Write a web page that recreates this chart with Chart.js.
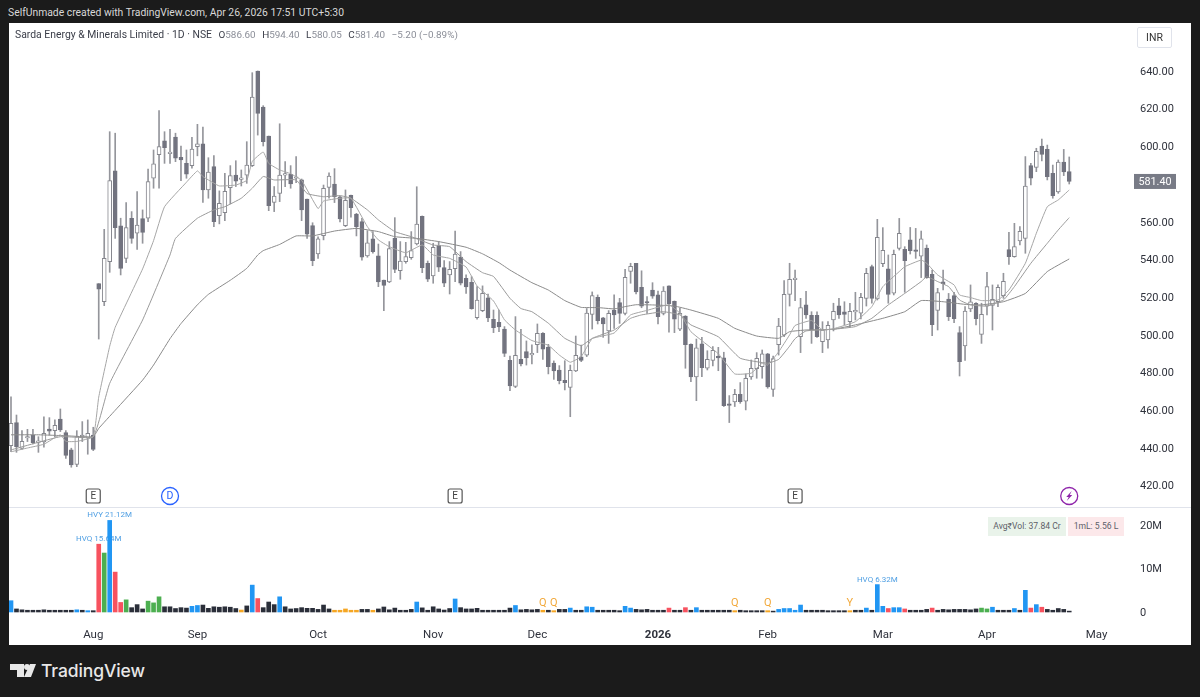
<!DOCTYPE html>
<html>
<head>
<meta charset="utf-8">
<script src="https://cdn.jsdelivr.net/npm/chart.js@4"></script>
<style>
  html, body { margin: 0; padding: 0; width: 1200px; height: 697px; overflow: hidden; background: #1b1b1b; font-family: Roboto, sans-serif; }
  #panel { position: absolute; left: 8.5px; top: 23px; width: 1182.5px; height: 622px; background: #fff; }
  canvas { position: absolute; left: 9px; }
  #priceChart { top: 23px; }
  #volumeChart { top: 507px; }
  #sep { position: absolute; left: 9px; top: 507px; width: 1182px; height: 1px; background: #e0e3eb; }
  .txt { position: absolute; white-space: nowrap; }
  #credit { left: 8px; top: 6px; font-size: 10.35px; color: #d8d8d8; }
  #legend { left: 15px; top: 28px; font-size: 10.4px; color: #3a3d48; }
  #legend i { font-style: normal; color: #8b8e98; }
  #legend span { margin-left: 6.5px; font-size: 9.9px; }
  #inr { left: 1137px; top: 27px; width: 33px; height: 19px; line-height: 19px; text-align: center; font-size: 10.5px; color: #333; border: 1px solid #e0e3eb; border-radius: 2px; }
  .stat { top: 516.5px; height: 19px; line-height: 19px; text-align: center; font-size: 8.6px; color: #5d5f69; }
  #avg { left: 988px; width: 78px; background: #e9f3ea; }
  #ml { left: 1068px; width: 56px; background: #fce8ea; }
  #brand { left: 41px; top: 660px; font-size: 17.5px; font-weight: 500; color: #e8e8e8; font-family: Inter, sans-serif; letter-spacing: -0.1px; }
  #logo { position: absolute; left: 10px; top: 664px; }
</style>
</head>
<body>
<div id="panel"></div>
<canvas id="priceChart" width="1182" height="484"></canvas>
<canvas id="volumeChart" width="1182" height="138"></canvas>
<div id="sep"></div>
<div class="txt" id="credit">SelfUnmade created with TradingView.com, Apr 26, 2026 17:51 UTC+5:30</div>
<div class="txt" id="legend">Sarda Energy &amp; Minerals Limited · 1D · NSE<span>O<i>586.60</i></span><span>H<i>594.40</i></span><span>L<i>580.05</i></span><span>C<i>581.40</i></span><span><i>−5.20 (−0.89%)</i></span></div>
<div class="txt" id="inr">INR</div>
<div class="txt stat" id="avg">Avg₹Vol: 37.84 Cr</div>
<div class="txt stat" id="ml">1mL: 5.56 L</div>
<svg id="logo" width="26" height="14" viewBox="0 0 26 14"><path fill="#e8e8e8" d="M0 0h14v13H7V6H0z"/><circle cx="17" cy="3" r="3" fill="#e8e8e8"/><path fill="#e8e8e8" d="M20 0h6l-5 13h-7z"/></svg>
<div class="txt" id="brand">TradingView</div>

<script>
const opens = [
  441.2, 453.5, 439.8, 445.3, 446.7, 443, 443.2, 450.1, 449.2, 455.4,
  448.2, 439, 431.3, 445.5, 445.2, 446.9, 527.2, 517.6, 538.9, 587,
  557.9, 540.6, 561.9, 553.9, 561.7, 561.9, 583.1, 595.6, 603, 596.2,
  605, 594.2, 591, 589.8, 599.9, 601.3, 576.9, 589.3, 563.3, 564.9,
  578.1, 584.8, 582.5, 584.8, 589.8, 640, 620.9, 605.5, 570.3, 575.1,
  584.8, 585.2, 583.1, 582.2, 572.1, 558, 542.9, 552.7, 578.3, 580,
  573.3, 558, 574, 564.1, 560.1, 541.9, 550.9, 542, 529.1, 528.1,
  551.2, 534.1, 538.9, 541, 548.2, 562.9, 538, 531.3, 547.4, 535.7,
  531.8, 535.1, 541.3, 530, 527.9, 509.2, 512.9, 519.6, 508.3, 506.7,
  503.1, 486.5, 472.7, 487, 491.1, 489.4, 494.8, 500.8, 493.6, 485.1,
  481.4, 475.9, 472.2, 480.9, 488.3, 489.2, 510.9, 519.9, 509, 502.1,
  513.2, 517.1, 511.4, 533.7, 538, 525.2, 517.4, 523.8, 521.2, 511.4,
  526, 517.8, 503.1, 510, 495, 477.7, 495.2, 482.3, 486.5, 488.3,
  487.9, 462.8, 464.4, 468.5, 464.8, 477.7, 482.1, 483.1, 489.9, 471.1,
  494.8, 499.8, 521.5, 529.3, 499.1, 516, 510.4, 510.4, 496.4, 497.3,
  507.9, 515.4, 512.2, 507, 512.2, 511.5, 519.4, 536.2, 519.1, 537.8,
  535.1, 522.1, 545.9, 545.4, 550.4, 544.9, 541.7, 546.1, 532.1, 513,
  528.1, 519, 520.8, 501.2, 494.1, 513.8, 516.8, 500.3, 515.3, 515.7,
  517.6, 520.8, 545.2, 541.5, 549.8, 551.2, 589.8, 588.9, 600.2, 598.4,
  585.7, 575.8, 591.7, 586.6
];
const highs = [
  467.2, 457.5, 449.2, 449.9, 449.9, 446, 456.6, 456.1, 454.9, 460.7,
  449.2, 439.9, 449.2, 454, 454.9, 451, 527.2, 556, 607.8, 607,
  561.9, 570.2, 565.4, 576, 566.3, 588, 598.1, 619, 607.8, 609,
  607, 600.2, 598.1, 604.8, 611.7, 610.3, 594, 595.1, 576.4, 585.7,
  589.8, 592.4, 587.5, 602.5, 639.1, 640, 621.6, 605.5, 578.7, 612,
  591.9, 589.8, 594.6, 582.7, 572.1, 559.5, 552, 579.5, 586, 588.2,
  573.7, 576.9, 574.2, 564.5, 561.8, 555.3, 554.8, 548.2, 529.1, 549.5,
  562.2, 549.5, 549.1, 554.8, 578.6, 563.1, 539.2, 548.6, 549.5, 539.4,
  538.9, 555.1, 544.2, 531.8, 530.9, 525.6, 526, 521.7, 513.2, 513.2,
  504.4, 488.8, 509.7, 503, 496.8, 494.7, 505.8, 501.2, 495, 486.2,
  483.7, 486.3, 484, 499.4, 494.6, 514, 522.8, 521.2, 509.3, 512.9,
  521.2, 519.4, 534.8, 538, 538, 534, 520.3, 527.7, 523.3, 525.6,
  526, 518, 514.1, 510.2, 495.2, 497.8, 498.7, 491.6, 493.8, 493.4,
  490.8, 467.8, 471.1, 474.7, 479.3, 486.7, 490.6, 492, 490.2, 488.8,
  508.8, 528.8, 538, 534.4, 519.4, 523.1, 512.3, 512.3, 507, 507,
  516.8, 519.4, 517.6, 516.8, 522.6, 522, 535.3, 537.1, 561.3, 556.9,
  542.4, 545, 561.8, 546.8, 557, 556.5, 555.1, 547.7, 534.4, 524.7,
  534.4, 522, 522.6, 504.4, 515, 526.5, 517.1, 516.8, 533.2, 526.5,
  526.5, 532.7, 554.4, 559.2, 557.4, 594.6, 591, 599, 603.9, 600.7,
  590.1, 592.8, 598.4, 594.4
];
const lows = [
  438, 437.7, 439.3, 443.4, 442.1, 437.7, 440.4, 446.9, 446, 448.7,
  434.5, 429.8, 430.1, 443.4, 436.7, 438.6, 497.8, 515.5, 533.2, 551.2,
  531.8, 538.3, 548.6, 545.4, 548.6, 560.1, 577.8, 577.8, 591, 591,
  591.9, 581.8, 583.1, 588.4, 595, 570.3, 572.5, 557.4, 558.9, 560.6,
  569.5, 578.7, 579, 580.4, 589.3, 606, 600.2, 565.9, 565.4, 570.7,
  578.7, 577.8, 580.8, 560.6, 551.2, 536.7, 540.6, 550.4, 572.5, 570.2,
  560, 557.4, 562.4, 552.5, 539.7, 541.2, 543.3, 525.6, 512.9, 527.7,
  533, 529.5, 538, 540.1, 547.7, 533, 528.3, 527.4, 533.6, 525.6,
  521.7, 528.3, 526.5, 522, 513.6, 508.3, 512.3, 507, 501.2, 501.7,
  488.5, 470.4, 472, 483.5, 484, 484.6, 490.6, 487, 479.3, 476.4,
  474, 470.8, 456.6, 480.5, 485.8, 488.5, 503.1, 505.8, 498.7, 495.5,
  503.5, 506.1, 510.6, 527.4, 521.7, 514.4, 511.4, 519.4, 505.8, 510.6,
  501.4, 501.2, 502.3, 482.3, 475.2, 465.1, 477.9, 481.4, 483.5, 481,
  462, 453.5, 462, 463.7, 460.2, 476.4, 477, 477, 471.7, 467.3,
  489.3, 499.1, 515.3, 518.2, 490.6, 508.8, 495.5, 498.7, 490.6, 492.9,
  502.1, 508.8, 505.3, 504.4, 507.9, 508.5, 515.3, 516.8, 518.5, 536.2,
  516.8, 521.2, 545, 522.6, 542.9, 540.6, 530.4, 530, 499.6, 502.6,
  523.8, 507.6, 506.5, 478.2, 486.4, 512.3, 505.3, 495.5, 510.6, 502.6,
  515, 519.4, 537.4, 541.2, 547.7, 543.3, 579.5, 586.6, 592.3, 582.2,
  572.5, 575.1, 584.5, 580.05
];
const closes = [
  453.1, 440.7, 443.6, 446, 442.8, 443.6, 447.8, 448.9, 452, 449.6,
  436.1, 431, 446, 446.9, 447.8, 439.3, 524.2, 540.6, 581.8, 556.9,
  535.3, 556.9, 551.2, 558.3, 554.4, 581.3, 590.7, 599.9, 599.3, 596.9,
  593.7, 592.8, 585.2, 598.6, 601.4, 576.9, 586.4, 560.1, 569.8, 576.2,
  584.5, 581.6, 583.1, 590.1, 626.2, 617.5, 602.5, 568.6, 573.7, 584.8,
  585.4, 580.1, 583.6, 566.3, 553.4, 539.4, 551, 577.8, 584.3, 573.3,
  561.5, 571.4, 567.5, 557.4, 541.2, 548.9, 544.2, 528.1, 526.3, 545.8,
  534.8, 539.2, 541.5, 544.7, 558.8, 535.7, 529.5, 546.5, 535.9, 527.4,
  534.8, 542.9, 527.4, 525.4, 513.9, 518.5, 522.1, 509, 503.8, 504.2,
  490.2, 472.9, 489.2, 484.6, 487.8, 489.7, 500.8, 492.4, 483.2, 480.9,
  475.7, 474.7, 481.2, 489.2, 486.5, 511.6, 520.8, 507.6, 505.8, 511.4,
  510.6, 511.4, 530.5, 536.4, 522.8, 515.3, 516.9, 520.6, 509.7, 523.3,
  516.4, 508.3, 511.4, 494.8, 477.7, 493.2, 482.6, 487, 491.8, 487.8,
  462.5, 462.6, 468.5, 464.6, 477, 482.3, 487.6, 489.9, 472.4, 487.4,
  504.7, 521.5, 529.5, 529.7, 514.5, 510.6, 502.6, 499.1, 502.6, 505.1,
  512.5, 510.6, 510.8, 512.5, 512.5, 519.9, 532.7, 519.4, 551.8, 544.9,
  521.5, 542.8, 553.9, 539.4, 544.7, 544.3, 550.9, 530.4, 505.4, 522.4,
  527.2, 509.7, 508.6, 485.8, 512.7, 517.6, 508.6, 510.9, 525.6, 518.9,
  525.2, 528.4, 541.5, 546.8, 554.9, 579, 583.1, 597.4, 595.8, 583.9,
  573.9, 591.7, 586.4, 581.4
];
const volumes = [
  2.6, 0.7, 0.5, 0.4, 0.4, 0.4, 0.5, 0.4, 0.4, 0.4,
  0.4, 0.4, 0.5, 0.4, 0.3, 0.3, 15.64, 13.6, 21.12, 9.2,
  2.2, 2.8, 1, 1.7, 0.7, 2.5, 2.1, 3.5, 1.2, 1.2,
  0.8, 1, 0.9, 1.3, 1.5, 1.6, 0.85, 1.2, 1.1, 1.2,
  1.1, 0.8, 0.45, 1.4, 6.2, 3.1, 1, 2.3, 1.7, 3.5,
  1.2, 0.7, 0.8, 1, 0.85, 0.85, 0.6, 1.6, 0.7, 0.4,
  0.4, 0.7, 0.4, 0.4, 0.6, 0.6, 0.4, 0.7, 1.15, 0.5,
  0.9, 0.4, 0.4, 0.6, 2.3, 0.95, 0.4, 1.2, 0.7, 0.45,
  0.8, 3, 1, 0.7, 0.7, 0.85, 0.4, 0.4, 0.4, 0.4,
  0.4, 0.9, 1.5, 0.5, 0.6, 0.5, 0.6, 0.4, 0.4, 0.3,
  0.6, 0.6, 0.9, 0.4, 0.4, 1.2, 1.1, 0.4, 0.4, 0.4,
  0.4, 0.3, 1.3, 0.9, 0.6, 0.5, 0.6, 0.4, 0.4, 0.4,
  0.9, 0.4, 0.4, 1, 0.4, 1, 0.4, 0.4, 0.4, 0.4,
  0.4, 0.4, 0.3, 0.4, 0.3, 0.3, 0.3, 0.3, 0.3, 0.2,
  0.6, 0.8, 0.8, 0.4, 1.6, 0.4, 0.4, 0.4, 0.4, 0.3,
  0.3, 0.3, 0.3, 0.3, 0.4, 0.4, 0.9, 0.4, 6.32, 1.3,
  0.8, 1, 1, 0.7, 0.4, 0.4, 0.4, 0.6, 0.9, 0.4,
  0.6, 0.5, 0.6, 0.6, 0.6, 0.5, 0.7, 0.9, 0.7, 1.1,
  0.4, 0.4, 0.4, 0.8, 0.4, 5, 0.9, 1.7, 1.1, 0.6,
  0.4, 0.8, 0.6, 0.2
];

// which volume bars carry which colour, everything else is the dark default
const blueBars = [0, 12, 14, 18, 33, 34, 44, 49, 74, 81, 92, 102, 105, 106, 112, 113, 125, 140, 141, 142, 143, 144, 156, 158, 159, 161, 162, 179, 183, 185, 187];
const redBars = [16, 19, 20, 45, 120, 123, 160, 163, 168, 186, 188];
const greenBars = [17, 21, 25, 26, 27, 177, 178];
const orangeBars = [42, 59, 60, 61, 62, 63, 66, 97, 99, 132, 138, 153];

const ma1Idx = [0, 3, 6, 9, 10, 12, 15, 16, 18, 19, 24, 26, 28, 32, 34, 35, 37, 38, 41, 43, 44, 46, 47, 49, 51, 53, 56, 57, 60, 62, 65, 67, 69, 72, 75, 77, 80, 83, 85, 88, 90, 92, 95, 98, 100, 102, 104, 106, 110, 113, 116, 120, 122, 124, 129, 132, 135, 137, 138, 140, 142, 143, 146, 148, 150, 154, 157, 159, 162, 163, 166, 167, 169, 172, 173, 175, 177, 180, 182, 185, 187, 189, 191, 193];
const ma1Val = [438, 440, 442, 447, 443.5, 443.5, 446, 467, 494, 504, 535, 550, 568, 581, 587, 584, 580.5, 579, 579.5, 582, 592, 597, 591, 587.5, 585.5, 582, 567, 571, 572.5, 572.5, 557.4, 550.4, 546.8, 543.6, 547.7, 542.4, 540.6, 536, 526, 518, 508, 502.6, 497, 494.5, 489.3, 485.5, 488.5, 498, 501, 510.6, 513, 516, 511.5, 501.7, 490, 479.3, 479.7, 485, 484, 491, 500, 505, 507.6, 502.6, 503.3, 507, 515, 525.6, 533.6, 536.2, 539.7, 538, 531.8, 526.5, 521.2, 519.8, 518.2, 518.5, 523.8, 538, 553.9, 568, 571.6, 576.9];
const ma2Idx = [0, 9, 15, 18, 24, 29, 30, 34, 37, 39, 42, 44, 46, 48, 52, 54, 57, 60, 62, 65, 67, 70, 73, 77, 80, 83, 86, 88, 91, 93, 95, 98, 101, 104, 106, 110, 113, 115, 119, 122, 124, 129, 133, 138, 140, 142, 143, 145, 150, 154, 157, 160, 163, 166, 167, 169, 171, 173, 175, 178, 181, 183, 186, 189, 191, 193];
const ma2Val = [439, 446, 446, 474.3, 507.9, 542.4, 551.2, 561.9, 566.3, 568, 572.5, 577.8, 584, 582.2, 582.2, 575, 573.3, 573.9, 572.5, 566.3, 561, 554.8, 552.1, 547.7, 546.8, 538.9, 533, 531, 519.4, 514, 512.3, 506.2, 498.2, 494.3, 498.2, 502.6, 508.8, 510.6, 512.3, 510.6, 505.3, 499, 487.6, 485, 487, 494, 498, 502.1, 503, 504.4, 508.8, 515.9, 522, 528.3, 530.9, 528.3, 525.6, 518.5, 515.9, 515.3, 518.5, 525.6, 538, 548.6, 555.7, 562.2];
const ma3Idx = [0, 5, 10, 15, 16, 19, 24, 26, 29, 31, 34, 36, 40, 43, 45, 46, 49, 52, 55, 59, 63, 67, 70, 74, 78, 83, 86, 89, 91, 95, 98, 101, 104, 107, 110, 112, 114, 117, 121, 124, 129, 132, 136, 140, 142, 145, 150, 154, 159, 163, 166, 170, 174, 177, 181, 185, 189, 193];
const ma3Val = [447, 447, 446.5, 446, 450.4, 460, 476, 484, 498, 506, 516, 521.5, 529, 535.3, 542.4, 544.7, 548, 552.5, 552.5, 555.1, 556.5, 554.8, 552.1, 551.2, 549.5, 546.5, 543, 538.3, 534.4, 527.7, 523.8, 518.2, 514.6, 514.5, 513.8, 515, 516, 515.9, 515.3, 513.2, 508.8, 503.5, 499.4, 498.2, 501.7, 502.6, 503, 505.3, 508.8, 512.3, 518.2, 517.6, 516.2, 515.9, 517.6, 522, 533.6, 540.3];

const timeTicks = [15, 34, 56, 77, 96, 118, 138, 159, 178, 198];
const timeLabels = ['Aug', 'Sep', 'Oct', 'Nov', 'Dec', '2026', 'Feb', 'Mar', 'Apr', 'May'];
const priceTicks = [420, 440, 460, 480, 500, 520, 540, 560, 580, 600, 620, 640];
const volumeTicks = [0, 10, 20];

const earningsBars = [15, 81, 143];
const dividendBars = [29];
const flashBars = [193];
const qLetterBars = [97, 99, 132, 138];
const yLetterBars = [153];
const volumeNotes = [
  { bar: 16, text: 'HVQ 15.64M' },
  { bar: 18, text: 'HVY 21.12M' },
  { bar: 158, text: 'HVQ 6.32M' }
];

const xMin = -0.365, xMax = 204.63;
const fontName = 'Roboto, sans-serif';
Chart.defaults.devicePixelRatio = 1;
Chart.defaults.animation = false;
Chart.defaults.responsive = false;
Chart.defaults.font.family = fontName;

const bars = opens.map((_, i) => i);
const white = '#ffffff', candleGrey = '#72737f', wickGrey = '#94959b', lineGrey = '#8a8a8a';
const isUp = (i) => closes[i] >= opens[i];
const zipLine = (idx, val) => idx.map((x, k) => ({ x: x, y: val[k] }));

function maDataset(idx, val, color, width) {
    return {
        type: 'line',
        data: zipLine(idx, val),
        borderColor: color,
        borderWidth: width,
        pointRadius: 0,
        tension: 0.12,
        order: 0
    };
}

const eventMarkers = {
    id: 'eventMarkers',
    afterDatasetsDraw(chart) {
        const { ctx, scales: { x, y }, chartArea } = chart;
        const top = chartArea.bottom - 11;
        ctx.save();
        ctx.textAlign = 'center';
        ctx.textBaseline = 'middle';

        earningsBars.forEach((bar) => {
            const cx = x.getPixelForValue(bar);
            ctx.strokeStyle = '#555';
            ctx.lineWidth = 1.2;
            ctx.beginPath();
            ctx.roundRect(cx - 7, top - 7, 14, 14, 2);
            ctx.stroke();
            ctx.fillStyle = '#444';
            ctx.font = '10px ' + fontName;
            ctx.fillText('E', cx, top + 0.5);
        });

        dividendBars.forEach((bar) => {
            const cx = x.getPixelForValue(bar);
            ctx.strokeStyle = '#2962ff';
            ctx.lineWidth = 1.3;
            ctx.beginPath();
            ctx.arc(cx, top, 8.5, 0, Math.PI * 2);
            ctx.stroke();
            ctx.fillStyle = '#2962ff';
            ctx.font = '10.5px ' + fontName;
            ctx.fillText('D', cx, top + 0.5);
        });

        flashBars.forEach((bar) => {
            const cx = x.getPixelForValue(bar);
            ctx.strokeStyle = '#8e24aa';
            ctx.fillStyle = '#8e24aa';
            ctx.lineWidth = 1.3;
            ctx.beginPath();
            ctx.arc(cx, top, 8.5, 0, Math.PI * 2);
            ctx.stroke();
            ctx.beginPath();
            ctx.moveTo(cx + 2.5, top - 5);
            ctx.lineTo(cx - 3, top + 1);
            ctx.lineTo(cx - 0.5, top + 1);
            ctx.lineTo(cx - 2.5, top + 5);
            ctx.lineTo(cx + 3, top - 1);
            ctx.lineTo(cx + 0.5, top - 1);
            ctx.closePath();
            ctx.fill();
        });

        // last price tag on the axis
        const last = closes[closes.length - 1];
        const py = y.getPixelForValue(last);
        ctx.fillStyle = '#787b86';
        ctx.fillRect(chartArea.right + 1, py - 7.5, 42, 15);
        ctx.fillStyle = '#fff';
        ctx.font = '10.8px ' + fontName;
        ctx.fillText(last.toFixed(2), chartArea.right + 22, py + 0.5);
        ctx.restore();
    }
};

const volumeMarks = {
    id: 'volumeMarks',
    beforeDatasetsDraw(chart) {
        const { ctx, scales: { x, y } } = chart;
        ctx.save();
        ctx.textAlign = 'center';
        ctx.textBaseline = 'middle';
        ctx.fillStyle = '#4f9fe3';
        ctx.font = '8px ' + fontName;
        volumeNotes.forEach((n) => {
            ctx.fillText(n.text, x.getPixelForValue(n.bar), y.getPixelForValue(volumes[n.bar]) - 5);
        });
        ctx.fillStyle = '#f2a93b';
        ctx.font = '11px ' + fontName;
        qLetterBars.forEach((b) => ctx.fillText('Q', x.getPixelForValue(b), y.getPixelForValue(volumes[b]) - 7));
        yLetterBars.forEach((b) => ctx.fillText('Y', x.getPixelForValue(b), y.getPixelForValue(volumes[b]) - 7));
        ctx.restore();
    }
};

function xAxis(showLabels) {
    return {
        type: 'linear',
        min: xMin,
        max: xMax,
        offset: false,
        display: showLabels,
        grid: { display: false, drawTicks: false, offset: false },
        border: { display: false },
        afterBuildTicks: (scale) => { scale.ticks = timeTicks.map((v) => ({ value: v })); },
        afterFit: (scale) => {
            if (showLabels) scale.height = 23;
            scale.paddingLeft = 0;
            scale.paddingRight = 0;
        },
        ticks: {
            autoSkip: false,
            maxRotation: 0,
            padding: 6,
            color: '#2f323c',
            font: (ctx) => {
                const isYear = ctx.tick && timeLabels[timeTicks.indexOf(ctx.tick.value)] === '2026';
                return { size: 11.5, weight: isYear ? '700' : '400' };
            },
            callback: (v) => timeLabels[timeTicks.indexOf(v)]
        }
    };
}

function yAxis(min, max, tickList, labelOf) {
    return {
        position: 'right',
        min: min,
        max: max,
        grid: { display: false, drawTicks: false },
        border: { display: false },
        afterBuildTicks: (scale) => { scale.ticks = tickList.map((v) => ({ value: v })); },
        afterFit: (scale) => {
            scale.width = 58;
            scale.paddingTop = 0;
            scale.paddingBottom = 0;
        },
        ticks: { padding: 7, labelOffset: 1, color: '#2f323c', font: { size: 11 }, callback: labelOf }
    };
}

new Chart(document.getElementById('priceChart'), {
    type: 'bar',
    data: {
        datasets: [
            maDataset(ma1Idx, ma1Val, '#a6a6a6', 1),
            maDataset(ma2Idx, ma2Val, '#9a9a9a', 1),
            maDataset(ma3Idx, ma3Val, lineGrey, 1),
            {
                data: bars.map((i) => ({ x: i, y: [opens[i], closes[i]] })),
                grouped: false,
                barThickness: 4,
                minBarLength: 1.5,
                borderSkipped: false,
                borderWidth: 1,
                borderColor: (ctx) => (isUp(ctx.dataIndex) ? '#85868d' : candleGrey),
                backgroundColor: (ctx) => (isUp(ctx.dataIndex) ? white : candleGrey),
                order: 1
            },
            {
                data: bars.map((i) => ({ x: i, y: [lows[i], highs[i]] })),
                grouped: false,
                barThickness: 1,
                backgroundColor: wickGrey,
                order: 2
            }
        ]
    },
    options: {
        layout: { padding: 0, autoPadding: false },
        plugins: { legend: { display: false }, tooltip: { enabled: false } },
        scales: {
            x: xAxis(false),
            y: yAxis(408.7, 665.46, priceTicks, (v) => v.toFixed(2))
        }
    },
    plugins: [eventMarkers]
});

new Chart(document.getElementById('volumeChart'), {
    type: 'bar',
    data: {
        datasets: [{
            data: bars.map((i) => ({ x: i, y: volumes[i] })),
            barThickness: 4,
            backgroundColor: (ctx) => {
                const i = ctx.dataIndex;
                if (blueBars.includes(i)) return '#2196f3';
                if (redBars.includes(i)) return '#f7525f';
                if (greenBars.includes(i)) return '#4caf50';
                if (orangeBars.includes(i)) return '#f5a623';
                return '#2a2e39';
            }
        }]
    },
    options: {
        layout: { padding: 0, autoPadding: false },
        plugins: { legend: { display: false }, tooltip: { enabled: false } },
        scales: {
            x: xAxis(true),
            y: yAxis(-2.31, 24.22, volumeTicks, (v) => (v === 0 ? '0' : v + 'M'))
        }
    },
    plugins: [volumeMarks]
});
</script>
</body>
</html>
